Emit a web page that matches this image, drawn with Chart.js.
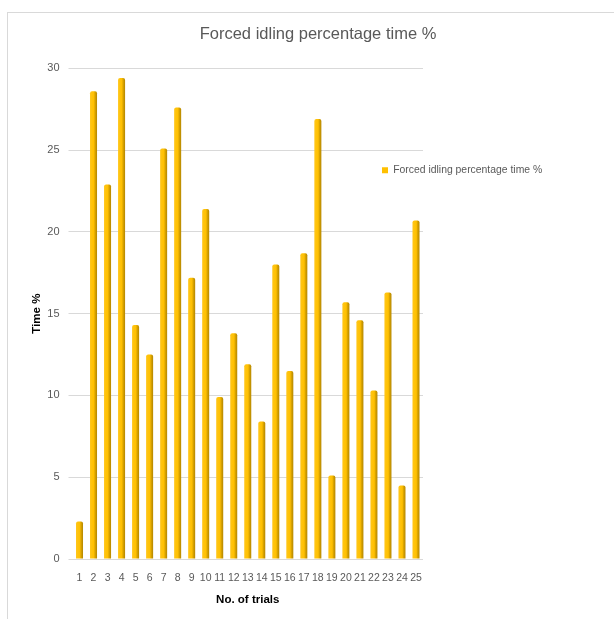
<!DOCTYPE html>
<html>
<head>
<meta charset="utf-8">
<script src="https://cdn.jsdelivr.net/npm/chart.js@4.4.1/dist/chart.umd.min.js"></script>
<style>
  html, body { margin: 0; padding: 0; background: #fff; overflow: hidden; }
  #frame { position: absolute; left: 7px; top: 12px; width: 720px; height: 720px;
           border: 1px solid #d9d9d9; box-sizing: border-box; }
  #wrap { position: absolute; left: 0; top: 0; width: 614px; height: 619px; }
</style>
</head>
<body>
<div id="frame"></div>
<div id="wrap"><canvas id="chart" width="614" height="619"></canvas></div>
<script>
// Forced idling share of trial time, per trial
const trials = ['1','2','3','4','5','6','7','8','9','10','11','12','13',
                '14','15','16','17','18','19','20','21','22','23','24','25'];
const idlingPct = [2.3, 28.6, 22.9, 29.4, 14.3, 12.5, 25.1, 27.6, 17.2, 21.4,
                   9.9, 13.8, 11.9, 8.4, 18.0, 11.5, 18.7, 26.9, 5.1, 15.7,
                   14.6, 10.3, 16.3, 4.5, 20.7];
const yTicks = [0, 5, 10, 15, 20, 25, 30];

const seriesName = 'Forced idling percentage time %';
const GRAY = '#595959';
const GOLD = '#FFC000';
const FONT = "'Liberation Sans', Arial, sans-serif";
const BAR_PCT = 0.5;

// cylinder-like shading across each bar, derived from the x scale
function barFill(ctx) {
  const chart = ctx.chart;
  const xs = chart.scales && chart.scales.x;
  if (!xs || ctx.dataIndex === undefined) return GOLD;
  const cx = xs.getPixelForValue(ctx.dataIndex);
  const half = (xs.width / trials.length) * BAR_PCT / 2;
  if (!isFinite(cx) || !isFinite(half) || half <= 0) return GOLD;
  const g = chart.ctx.createLinearGradient(cx - half, 0, cx + half, 0);
  g.addColorStop(0, '#FFC61A');
  g.addColorStop(0.55, GOLD);
  g.addColorStop(0.68, '#E0A800');
  g.addColorStop(1, '#B38600');
  return g;
}

// free placement for the legend and a title centred on the whole frame
const boxPlacer = {
  id: 'boxPlacer',
  afterLayout(chart) {
    const lg = chart.legend;
    if (lg) {
      const w = lg.width, h = lg.height;
      lg.left = 374; lg.top = 157;
      lg.right = lg.left + w; lg.bottom = lg.top + h;
    }
    const tb = chart.titleBlock;
    if (tb) {
      tb.left = 0; tb.right = 636; tb.width = 636;
    }
  }
};

new Chart(document.getElementById('chart'), {
  type: 'bar',
  data: {
    labels: trials,
    datasets: [{
      label: seriesName,
      data: idlingPct,
      backgroundColor: barFill,
      borderWidth: 0,
      borderRadius: { topLeft: 2, topRight: 2 },
      borderSkipped: 'bottom',
      barPercentage: BAR_PCT,
      categoryPercentage: 1.0
    }]
  },
  options: {
    responsive: false,
    animation: false,
    devicePixelRatio: 1,
    layout: { padding: { left: 0, right: 191, top: 0, bottom: 0 } },
    plugins: {
      title: {
        display: true,
        text: seriesName,
        color: GRAY,
        font: { family: FONT, size: 16.5, weight: 'normal' },
        padding: { top: 24.6, bottom: 23.9 }
      },
      legend: {
        position: 'chartArea',
        align: 'start',
        labels: {
          color: GRAY,
          font: { family: FONT, size: 10.4 },
          boxWidth: 6,
          boxHeight: 6,
          padding: 8,
          generateLabels(chart) {
            const items = Chart.defaults.plugins.legend.labels.generateLabels(chart);
            items.forEach(it => { it.fillStyle = GOLD; it.strokeStyle = GOLD; it.lineWidth = 0; });
            return items;
          }
        }
      },
      tooltip: { enabled: false }
    },
    scales: {
      x: {
        grid: { display: false, drawTicks: false },
        border: { display: false },
        ticks: {
          color: GRAY,
          font: { family: FONT, size: 10.5 },
          autoSkip: false,
          maxRotation: 0,
          minRotation: 0,
          padding: 13
        },
        title: {
          display: true,
          text: 'No. of trials',
          color: '#000',
          font: { family: FONT, size: 11.5, weight: 'bold' },
          padding: { top: 0, bottom: 12.5 }
        },
        afterFit(scale) { scale.height = 60; }
      },
      y: {
        min: 0,
        max: 30,
        afterBuildTicks(scale) { scale.ticks = yTicks.map(v => ({ value: v })); },
        grid: { color: '#d9d9d9', lineWidth: 1, drawTicks: true, tickLength: 4 },
        border: { display: false },
        ticks: {
          color: GRAY,
          font: { family: FONT, size: 11 },
          padding: 9
        },
        title: {
          display: true,
          text: 'Time %',
          color: '#000',
          font: { family: FONT, size: 11.5, weight: 'bold' },
          padding: { top: 30, bottom: 0 }
        },
        afterFit(scale) { scale.width = 72.5; }
      }
    }
  },
  plugins: [boxPlacer]
});
</script>
</body>
</html>
